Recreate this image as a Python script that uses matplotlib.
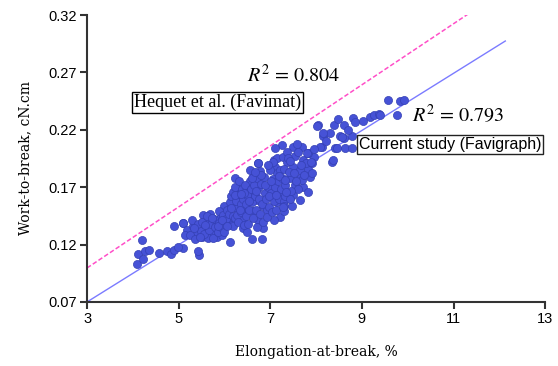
import numpy as np
import matplotlib
matplotlib.use("Agg")
import matplotlib.pyplot as plt

# 散点数据：断裂伸长率 %, 断裂功 cN.cm
elong = [4.08, 4.19, 4.12, 4.22, 4.27, 4.35, 4.56, 4.74, 4.83, 4.90, 4.90, 5.09, 5.10, 5.45,
         4.99, 5.10, 5.18, 5.14, 5.32, 5.39, 5.54, 5.61, 5.58, 5.69, 5.76, 5.50, 5.64, 5.83,
         5.94, 5.90, 5.98, 5.87, 6.08, 6.16, 6.12, 6.27, 6.19, 6.27, 5.43,
         5.25, 5.30, 5.35, 5.42, 5.48, 5.52, 5.56, 5.62, 5.66, 5.70, 5.74, 5.78, 5.80, 5.85,
         5.88, 5.92, 5.96, 6.00, 6.03, 6.05, 6.10, 6.12, 6.15, 6.18,
         6.74, 6.78, 6.23, 6.63, 6.56, 7.07, 7.10, 7.14, 7.18, 7.14, 7.21, 6.19, 6.34, 6.49,
         6.56, 6.74, 6.71, 6.89, 6.85, 6.92, 6.27, 6.45, 6.63, 6.23, 6.41, 6.74, 7.07, 6.19,
         6.41, 6.49, 6.85, 6.60, 6.81,
         6.22, 6.25, 6.28, 6.30, 6.32, 6.35, 6.36, 6.38, 6.40, 6.42, 6.44, 6.46, 6.48, 6.50,
         6.52, 6.54, 6.56, 6.58, 6.60, 6.62, 6.64, 6.66, 6.68, 6.70, 6.72, 6.75, 6.77, 6.80,
         6.82, 6.84, 6.87, 6.90, 6.93, 6.95, 6.97, 7.00, 7.02, 7.04, 7.06, 7.08, 7.10, 7.12,
         7.15, 7.17, 7.20, 7.22, 7.24, 7.26, 7.28, 7.30, 7.25, 7.10, 6.73,
         7.50, 7.69, 7.36, 7.83, 7.54, 7.72, 7.36, 7.29, 7.50, 7.65, 7.83, 7.87, 7.65, 7.43,
         7.32, 7.54, 7.72, 7.83, 7.50, 7.32, 7.65, 7.29, 7.47, 7.29, 7.60, 7.40, 7.78, 7.95,
         7.58, 7.45, 7.38, 7.92, 7.70,
         8.05, 8.38, 8.16, 8.31, 8.41, 8.12, 8.34, 8.02, 8.15, 8.52, 8.60, 8.45, 8.63, 8.78,
         8.09, 7.83, 8.37, 8.48, 8.81, 8.60, 8.85, 8.78, 8.56, 7.80, 7.91, 8.22, 8.70,
         9.18, 9.27, 9.38, 9.56, 9.76, 9.83, 9.92, 9.40, 9.02,
         # 密集区补充点
         5.33, 5.46, 5.58, 5.72, 5.86, 5.95, 6.06, 6.14, 6.24, 6.33, 6.43, 6.53, 6.61, 6.69,
         6.79, 6.88, 6.98, 7.05, 7.13, 7.19, 7.33, 7.42, 7.52, 7.61, 7.74, 7.88, 7.44, 7.56,
         7.68, 7.35, 7.96, 6.37, 6.67, 6.94, 7.01, 7.27]
work = [0.103, 0.124, 0.112, 0.107, 0.114, 0.115, 0.113, 0.114, 0.112, 0.115, 0.136, 0.139, 0.117, 0.111,
        0.118, 0.139, 0.133, 0.128, 0.136, 0.131, 0.146, 0.140, 0.134, 0.147, 0.131, 0.127, 0.126, 0.127,
        0.128, 0.143, 0.154, 0.149, 0.140, 0.137, 0.122, 0.169, 0.159, 0.152, 0.114,
        0.128, 0.141, 0.125, 0.138, 0.132, 0.140, 0.129, 0.145, 0.133, 0.138, 0.126, 0.142, 0.135, 0.131,
        0.139, 0.135, 0.146, 0.131, 0.142, 0.150, 0.147, 0.157, 0.162, 0.145,
        0.191, 0.184, 0.178, 0.179, 0.175, 0.194, 0.188, 0.182, 0.166, 0.157, 0.144, 0.166, 0.163, 0.168,
        0.162, 0.169, 0.159, 0.165, 0.154, 0.150, 0.152, 0.150, 0.149, 0.143, 0.141, 0.141, 0.141, 0.136,
        0.134, 0.131, 0.134, 0.125, 0.125,
        0.170, 0.158, 0.146, 0.140, 0.175, 0.155, 0.148, 0.168, 0.160, 0.137, 0.172, 0.155, 0.145, 0.163,
        0.138, 0.150, 0.185, 0.168, 0.157, 0.143, 0.172, 0.162, 0.150, 0.178, 0.135, 0.160, 0.147, 0.173,
        0.155, 0.140, 0.179, 0.160, 0.144, 0.170, 0.153, 0.185, 0.165, 0.148, 0.177, 0.158, 0.170, 0.150,
        0.195, 0.175, 0.160, 0.185, 0.168, 0.178, 0.196, 0.158, 0.207, 0.204, 0.191,
        0.205, 0.205, 0.201, 0.200, 0.197, 0.194, 0.192, 0.186, 0.188, 0.185, 0.186, 0.179, 0.178, 0.178,
        0.172, 0.172, 0.170, 0.166, 0.163, 0.162, 0.159, 0.154, 0.154, 0.149, 0.168, 0.183, 0.191, 0.196,
        0.208, 0.167, 0.195, 0.182, 0.176,
        0.224, 0.224, 0.215, 0.217, 0.204, 0.205, 0.192, 0.223, 0.217, 0.215, 0.213, 0.204, 0.204, 0.204,
        0.205, 0.200, 0.194, 0.229, 0.230, 0.224, 0.227, 0.215, 0.214, 0.200, 0.191, 0.210, 0.220,
        0.231, 0.233, 0.234, 0.246, 0.233, 0.245, 0.246, 0.233, 0.228,
        0.134, 0.127, 0.137, 0.143, 0.136, 0.141, 0.136, 0.152, 0.163, 0.150, 0.165, 0.158, 0.178, 0.167,
        0.181, 0.172, 0.162, 0.192, 0.163, 0.180, 0.176, 0.193, 0.182, 0.201, 0.181, 0.192, 0.160, 0.175,
        0.189, 0.166, 0.203, 0.164, 0.183, 0.189, 0.175, 0.153]

# 回归线：起点、终点、截距、斜率
fit_x_range = [3.0, 12.13]      # 本研究 (Favigraph)
fit_intercept = 0.070
fit_slope = 0.0249
hequet_x_range = [3.0, 11.36]   # Hequet et al. (Favimat)
hequet_intercept = 0.0996
hequet_slope = 0.0266

xticks = [3, 5, 7, 9, 11, 13]
yticks = [0.07, 0.12, 0.17, 0.22, 0.27, 0.32]

plt.rcParams['mathtext.fontset'] = 'stix'

fig = plt.figure(figsize=(5.58, 3.66), dpi=100)
ax = fig.add_axes([0.156, 0.175, 0.821, 0.784])

ax.scatter(elong, work, s=34, color='#4652d6', edgecolor='#3440b4', linewidth=0.5, zorder=3)

fx = np.array(fit_x_range)
ax.plot(fx, fit_intercept + fit_slope * (fx - 3), color='#7b7bff', lw=1.0, zorder=2)
hx = np.array(hequet_x_range)
ax.plot(hx, hequet_intercept + hequet_slope * (hx - 3), color='#ff4fc8', lw=1.1,
        ls=(0, (3, 1.5)), zorder=2)

ax.set_xlim(3, 13)
ax.set_ylim(0.07, 0.32)
ax.set_xticks(xticks)
ax.set_yticks(yticks)
ax.set_xticklabels([str(t) for t in xticks], family='Liberation Sans', fontsize=10.5)
ax.set_yticklabels([f"{t:.2f}" for t in yticks], family='Liberation Sans', fontsize=10.5)
ax.tick_params(direction='out', length=5, width=1.5, color='#333333', pad=2)
for s in ['top', 'right']:
    ax.spines[s].set_visible(False)
for s in ['left', 'bottom']:
    ax.spines[s].set_linewidth(1.5)
    ax.spines[s].set_color('#333333')

ax.set_xlabel('Elongation-at-break, %', family='DejaVu Serif', fontsize=10, labelpad=14)
ax.set_ylabel('Work-to-break, cN.cm', family='DejaVu Serif', fontsize=10, labelpad=12)

ax.text(6.49, 0.2677, r'$R^2$ = 0.804', fontsize=14.5, family='STIXGeneral',
        ha='left', va='center')
ax.text(10.10, 0.2329, r'$R^2$ = 0.793', fontsize=14.5, family='STIXGeneral',
        ha='left', va='center')
ax.text(5.85, 0.2438, 'Hequet et al. (Favimat)', fontsize=13, family='Liberation Serif',
        ha='center', va='center',
        bbox=dict(boxstyle='square,pad=0.1', fc='white', ec='black', lw=1))
ax.text(10.93, 0.2072, 'Current study (Favigraph)', fontsize=11.5, family='Liberation Sans',
        ha='center', va='center', zorder=4,
        bbox=dict(boxstyle='square,pad=0.1', fc='white', ec='#222222', lw=1))

fig.savefig('out.png', dpi=100)
